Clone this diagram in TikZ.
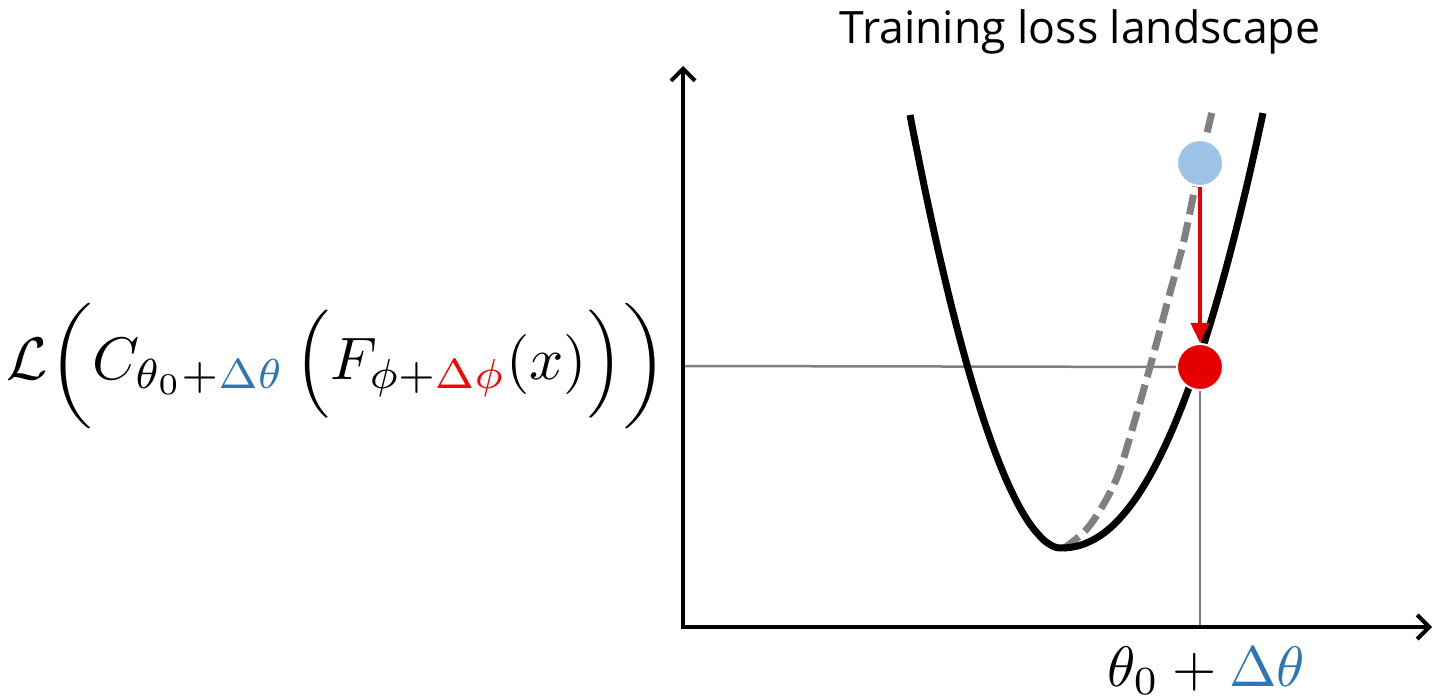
\documentclass[tikz,border=0pt]{standalone}
\usepackage{fontspec}
\usepackage{amsmath}
\usepackage{graphicx}
\setsansfont{Open Sans}
\usetikzlibrary{arrows.meta}
\definecolor{tblue}{RGB}{46,117,182}
\definecolor{tred}{RGB}{255,0,0}
\definecolor{dotred}{RGB}{230,0,0}
\definecolor{dotblue}{RGB}{157,195,230}
\definecolor{lgray}{RGB}{128,128,128}
\tikzset{
  axis/.style={line width=4pt, -{Straight Barb[length=12pt,width=24pt,line width=4pt]}},
  guide/.style={line width=2.5pt, lgray},
  losscurve/.style={line width=7pt, black},
  shiftcurve/.style={line width=7pt, lgray, dash pattern=on 20pt off 8pt},
  dot/.style={circle, draw=white, line width=2pt, minimum size=46pt, inner sep=0pt},
  drop/.style={line width=4pt, dotred, -{Triangle[length=20pt,width=18pt]}},
  lbl/.style={inner sep=0pt}
}
\begin{document}
\begin{tikzpicture}[x=1pt,y=-1pt]
\useasboundingbox (0,0) rectangle (1434,700);
% title
\node[lbl, font=\sffamily\fontsize{44.6}{50}\selectfont] (title) at (1080,32) {Training loss landscape};
% coordinates
\coordinate (O) at (683,627);
\coordinate (ytop) at (683,66);
\coordinate (xend) at (1432,627);
\coordinate (hl) at (683,366);
\coordinate (vb) at (1200,627);
\coordinate (rc) at (1200,367);
% formula
\node[lbl] (formula) at (337,366) {\scalebox{6}{$\mathcal{L}\scalebox{1}[0.87]{$\biggl($}C_{\theta_0+\textcolor{tblue}{\Delta\theta}}\,\Bigl(F_{\phi+\textcolor{tred}{\Delta\phi}}(x)\Bigr)\scalebox{1}[0.87]{$\biggr)$}$}};
% bottom label
\node[lbl, anchor=base] (xlabel) at (1206,686) {\scalebox{5.7}{$\theta_0+\textcolor{tblue}{\Delta\theta}$}};
% dashed shifted curve
\draw[shiftcurve] plot[smooth, tension=0.55] coordinates {(1063,549) (1085,531) (1102,507) (1118,475) (1132,430) (1150,367) (1168,300) (1184,240) (1200,163) (1213,108)};
% guides
\draw[guide] (hl) -- (rc);
\draw[guide] (rc) -- (vb);
% loss curve
\draw[losscurve] plot[domain=910:1059, samples=70] (\x, {548-433*pow((1060-\x)/150,1.8)}) -- plot[domain=1061:1263, samples=70] (\x, {548-435*pow((\x-1060)/203,2.2)});
% axes
\draw[axis] (O) -- (ytop);
\draw[axis] ([xshift=-2pt]O) -- (xend);
% dots
\node[dot, fill=dotred] (red) at (rc) {};
\node[dot, fill=dotblue] (blue) at (1200,163) {};
\draw[drop] (blue.south) -- (red.north);
\end{tikzpicture}
\end{document}
